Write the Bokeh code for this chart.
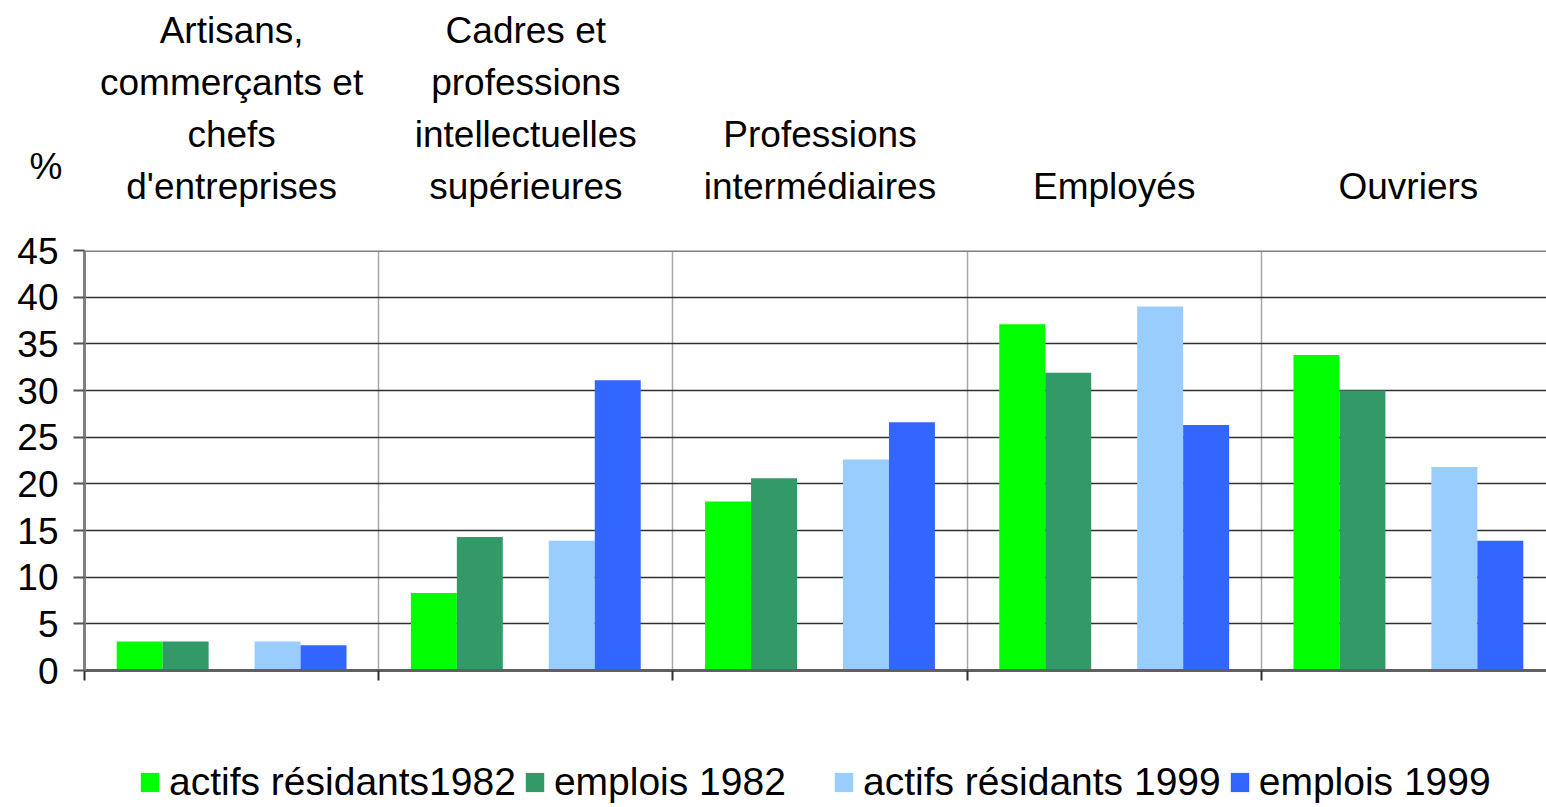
from bokeh.plotting import figure
from bokeh.layouts import column
from bokeh.models import (ColumnDataSource, FixedTicker, Range1d, Legend,
                          LegendItem, Span)
from bokeh.core.properties import value
from bokeh.embed import file_html
from bokeh.resources import INLINE

# ---- data ----
categories = [
    "Artisans,\ncommerçants et\nchefs\nd'entreprises",
    "Cadres et\nprofessions\nintellectuelles\nsupérieures",
    "Professions\nintermédiaires",
    "Employés",
    "Ouvriers",
]
series_names = ["actifs résidants1982", "emplois 1982",
                "actifs résidants 1999", "emplois 1999"]
actifs_1982 = [3.1, 8.3, 18.1, 37.1, 33.8]
emplois_1982 = [3.1, 14.3, 20.6, 31.9, 30.0]
actifs_1999 = [3.1, 13.9, 22.6, 39.0, 21.8]
emplois_1999 = [2.7, 31.1, 26.6, 26.3, 13.9]
y_ticks = [0, 5, 10, 15, 20, 25, 30, 35, 40, 45]
y_unit = "%"

colors = ["#00FF00", "#339966", "#99CCFF", "#3366FF"]
FONT = "Liberation Sans"
FS = "37px"
LEG_FS = "39px"

# ---- layout constants ----
W = 1546
LEFT = 84                 # frame left (px)
FRAME_H = 420             # frame height (px)
TOP_H = 230               # header figure height
MAIN_TOP = 20
MAIN_BOTTOM = 30
BOT_H = 105
GROUP_PX = 294.2          # pixel width of one category group
YMAX = 45
px_per_unit = FRAME_H / YMAX
x_end = (W - LEFT) / GROUP_PX
xr = Range1d(0, x_end)

slot = 1 / 6.4
offsets = [1.2 * slot, 2.2 * slot, 4.2 * slot, 5.2 * slot]
idx = list(range(len(categories)))

# ---------------- header (category labels and unit) ----------------
head_y0 = MAIN_TOP / px_per_unit + YMAX
head_y1 = head_y0 + TOP_H / px_per_unit
head = figure(width=W, height=TOP_H, output_backend="svg", toolbar_location=None,
              x_range=xr, y_range=Range1d(head_y0, head_y1),
              x_axis_location=None, y_axis_location="left",
              min_border_left=LEFT, min_border_right=0, min_border_top=0,
              min_border_bottom=0)
head.grid.visible = False
head.outline_line_color = None
unit_pos = 54.0
head.yaxis.ticker = FixedTicker(ticks=[unit_pos])
head.yaxis.major_label_overrides = {unit_pos: y_unit}
head.yaxis.axis_line_color = None
head.yaxis.major_tick_line_color = None
head.yaxis.minor_tick_line_color = None
head.yaxis.major_label_text_font = FONT
head.yaxis.major_label_text_font_size = FS
head.yaxis.major_label_text_color = "black"
head.yaxis.major_label_standoff = 16

lab_src = ColumnDataSource(dict(x=[i + 0.5 for i in idx], text=categories,
                                y=[YMAX + 4.62] * len(idx)))
head.text(x="x", y="y", text="text", source=lab_src, text_font=value(FONT),
          text_font_size=FS, text_align="center", text_baseline="bottom",
          text_line_height=1.27, text_color="black")

# ---------------- main chart ----------------
p = figure(width=W, height=MAIN_TOP + FRAME_H + MAIN_BOTTOM, output_backend="svg",
           toolbar_location=None, x_range=xr, y_range=Range1d(0, YMAX),
           min_border_left=LEFT, min_border_right=0, min_border_top=MAIN_TOP,
           min_border_bottom=MAIN_BOTTOM)
p.outline_line_color = None

sources = []
for vals, off, col in zip([actifs_1982, emplois_1982, actifs_1999, emplois_1999],
                          offsets, colors):
    src = ColumnDataSource(dict(x=[i + off for i in idx], top=vals))
    sources.append(src)
    p.vbar(x="x", top="top", width=slot, bottom=0, source=src,
           fill_color=col, line_color=None)

p.yaxis.ticker = FixedTicker(ticks=y_ticks)
p.yaxis.major_label_text_font = FONT
p.yaxis.major_label_text_font_size = FS
p.yaxis.major_label_text_color = "black"
p.yaxis.axis_line_color = "#808080"
p.yaxis.axis_line_width = 3
p.yaxis.major_tick_line_color = "#555555"
p.yaxis.major_tick_line_width = 2
p.yaxis.major_tick_out = 11
p.yaxis.major_tick_in = 0
p.yaxis.minor_tick_line_color = None
p.yaxis.major_label_standoff = 15

boundaries = [0, 1, 2, 3, 4]
p.xaxis.ticker = FixedTicker(ticks=boundaries)
p.xaxis.major_label_overrides = {b: "" for b in boundaries}
p.xaxis.major_label_text_font_size = "0px"
p.xaxis.axis_line_color = "#606060"
p.xaxis.axis_line_width = 3
p.xaxis.major_tick_line_color = "#303030"
p.xaxis.major_tick_line_width = 2
p.xaxis.major_tick_out = 10
p.xaxis.major_tick_in = 0
p.xaxis.minor_tick_line_color = None

p.xgrid.ticker = FixedTicker(ticks=boundaries[1:])
p.xgrid.grid_line_color = "#a8a8a8"
p.xgrid.grid_line_width = 1.5
p.ygrid.ticker = FixedTicker(ticks=y_ticks[1:-1])
p.ygrid.grid_line_color = "#303030"
p.ygrid.grid_line_width = 1.5
p.add_layout(Span(location=YMAX, dimension="width", line_color="#808080", line_width=3))

# ---------------- legend strip ----------------
# same series drawn in a strip whose ranges lie away from the data, so only the
# legend swatches are visible
leg = figure(width=W, height=BOT_H, output_backend="svg", toolbar_location=None,
             x_range=Range1d(-20, -19), y_range=Range1d(-20, -19),
             x_axis_location=None, y_axis_location=None,
             min_border_left=LEFT, min_border_right=0, min_border_top=0,
             min_border_bottom=0)
leg.grid.visible = False
leg.outline_line_color = None
swatches = []
for src, col in zip(sources, colors):
    r = leg.vbar(x="x", top="top", width=slot, bottom=0, source=src,
                 fill_color=col, line_color=None)
    swatches.append(r)


def make_legend(pairs, x):
    return Legend(items=[LegendItem(label=n, renderers=[r]) for n, r in pairs],
                  orientation="horizontal", location=(x, 1),
                  label_text_font=FONT, label_text_font_size=LEG_FS,
                  label_text_color="black",
                  glyph_width=23, glyph_height=24, label_height=24,
                  label_standoff=8, spacing=7, padding=0, margin=0,
                  border_line_color=None, background_fill_alpha=0)


leg.add_layout(make_legend(list(zip(series_names[:2], swatches[:2])), 54))
leg.add_layout(make_legend(list(zip(series_names[2:], swatches[2:])), 748))

layout = column(head, p, leg, spacing=0)
open("out.html", "w").write(file_html(layout, INLINE))
